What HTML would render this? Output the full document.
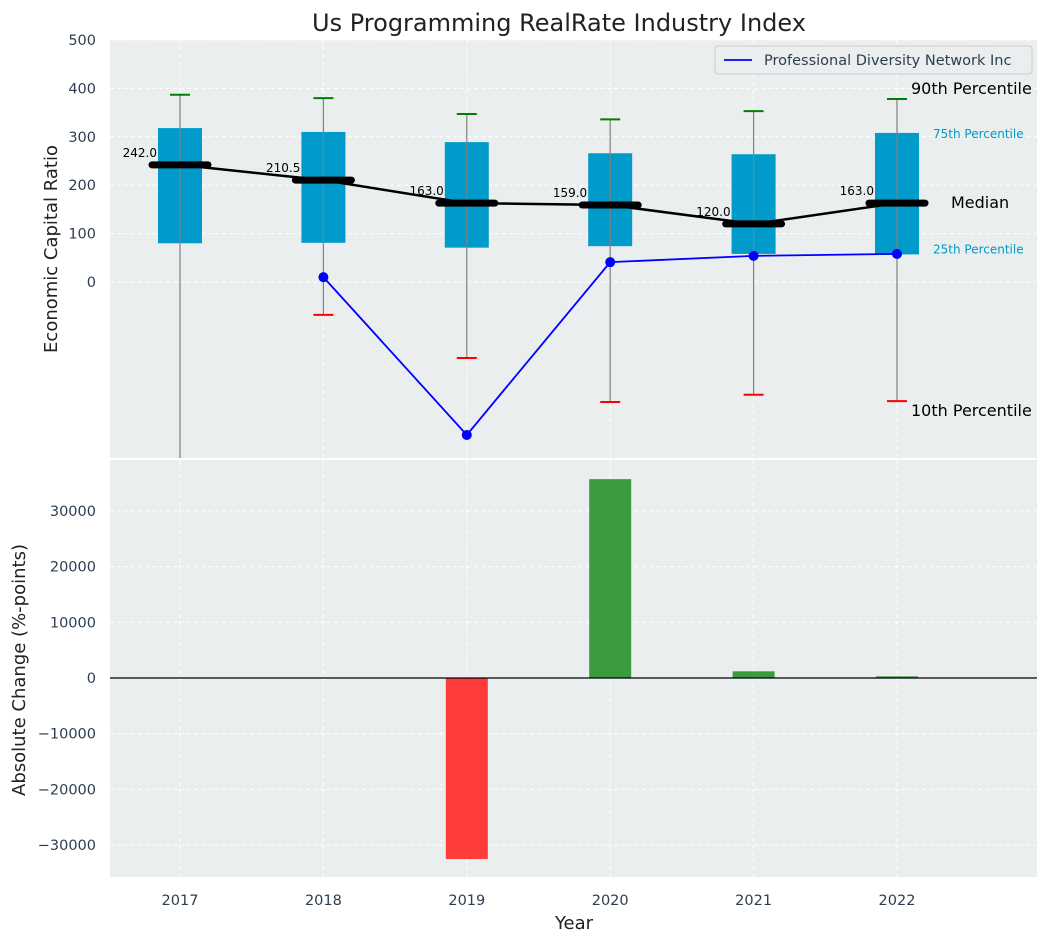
<!DOCTYPE html>
<html><head><meta charset="utf-8"><style>
body{margin:0;background:#fff;}
svg text{font-family:"DejaVu Sans","Liberation Sans",sans-serif;}
</style></head><body>
<svg id="chart" width="1048" height="942" xmlns="http://www.w3.org/2000/svg"></svg>
<script>
const years=[2017,2018,2019,2020,2021,2022];
const p10=[-400,-68,-157,-248,-233,-246];
const p25=[80,81,71,74,58,57];
const medians=[242,210.5,163,159,120,163];
const p75=[318,310,289,266,264,308];
const p90=[387,380,347,336,353,378];
const company=[null,10,-316,41,54,58];
const changes=[0,0,-32500,35700,1200,300];
const topTicks=[0,100,200,300,400,500];
const botTicks=[-30000,-20000,-10000,0,10000,20000,30000];

const svg=document.getElementById('chart');
const NS='http://www.w3.org/2000/svg';
function el(t,a,txt){const e=document.createElementNS(NS,t);for(const k in a)e.setAttribute(k,a[k]);if(txt!==undefined)e.textContent=txt;svg.appendChild(e);return e;}
const L=110,R=1037;
const x=v=>180+(v-2017)*143.4;
const yT=v=>282-v*0.484;
const yB=v=>678-v*0.00557;
const T0=40,T1=458,B0=460,B1=877;

let e;
e=el('rect',{x:L,y:T0,width:R-L,height:T1-T0,fill:'#eaeeef'});


e=el('rect',{x:L,y:B0,width:R-L,height:B1-B0,fill:'#eaeeef'});


topTicks.forEach(t=>{el('line',{x1:L,x2:R,y1:yT(t),y2:yT(t),stroke:'#fff','stroke-dasharray':'4,3','stroke-width':1});
 e=el('text',{x:96,y:yT(t)+5,'text-anchor':'end','font-size':14.5,fill:'#2d3e50'},t);
 
 });
botTicks.forEach(t=>{el('line',{x1:L,x2:R,y1:yB(t),y2:yB(t),stroke:'#fff','stroke-dasharray':'4,3','stroke-width':1});
 e=el('text',{x:96,y:yB(t)+5,'text-anchor':'end','font-size':14.5,fill:'#2d3e50'},String(t).replace('-','−'));
 
 });
years.forEach(yr=>{el('line',{x1:x(yr),x2:x(yr),y1:T0,y2:T1,stroke:'#fff','stroke-dasharray':'4,3'});
 el('line',{x1:x(yr),x2:x(yr),y1:B0,y2:B1,stroke:'#fff','stroke-dasharray':'4,3'});
 e=el('text',{x:x(yr),y:905,'text-anchor':'middle','font-size':14.5,fill:'#2d3e50'},yr);
 
 });
const clipTop=v=>Math.min(T1,Math.max(T0,yT(v)));
years.forEach((yr,i)=>{const cx=x(yr);
 e=el('rect',{x:cx-22,y:yT(p75[i]),width:44,height:yT(p25[i])-yT(p75[i]),fill:'#009bcb'});
 
 
 e=el('line',{x1:cx,x2:cx,y1:clipTop(p90[i]),y2:clipTop(p10[i]),stroke:'#808080','stroke-width':1.2});
 
 
 el('line',{x1:cx-10,x2:cx+10,y1:yT(p90[i]),y2:yT(p90[i]),stroke:'green','stroke-width':2});
 if(yT(p10[i])<T1)el('line',{x1:cx-10,x2:cx+10,y1:yT(p10[i]),y2:yT(p10[i]),stroke:'red','stroke-width':2});
});
e=el('polyline',{points:years.map((yr,i)=>x(yr)+','+yT(medians[i])).join(' '),fill:'none',stroke:'#000','stroke-width':2.5});


years.forEach((yr,i)=>{
 el('line',{x1:x(yr)-28,x2:x(yr)+28,y1:yT(medians[i]),y2:yT(medians[i]),stroke:'#000','stroke-width':7,'stroke-linecap':'round'});
 e=el('text',{x:x(yr)-23,y:yT(medians[i])-8,'text-anchor':'end','font-size':12,fill:'#000'},medians[i].toFixed(1));
 
 
});
const pts=years.map((yr,i)=>company[i]===null?null:[x(yr),yT(company[i])]).filter(p=>p);
e=el('polyline',{points:pts.map(p=>p.join(',')).join(' '),fill:'none',stroke:'blue','stroke-width':1.8});


pts.forEach(p=>{e=el('circle',{cx:p[0],cy:p[1],r:5,fill:'blue'});
 
 });
const lx=x(2022);
el('text',{x:lx+14,y:yT(p90[5])-5,'font-size':16,fill:'#000'},'90th Percentile');
el('text',{x:lx+36,y:yT(p75[5])+5,'font-size':12,fill:'#0099c6'},'75th Percentile');
el('text',{x:lx+54,y:yT(medians[5])+5,'font-size':16,fill:'#000'},'Median');
el('text',{x:lx+36,y:yT(p25[5])-1,'font-size':12,fill:'#0099c6'},'25th Percentile');
el('text',{x:lx+14,y:yT(p10[5])+15,'font-size':16,fill:'#000'},'10th Percentile');
e=el('rect',{x:715,y:46,width:317,height:28,fill:'#eaeeef',stroke:'#ccc',rx:3});


el('line',{x1:724,x2:752,y1:60,y2:60,stroke:'blue','stroke-width':1.8});
el('text',{x:764,y:65,'font-size':14.5,fill:'#2d3e50'},'Professional Diversity Network Inc');
years.forEach((yr,i)=>{const v=changes[i];if(!v)return;
 e=el('rect',{x:x(yr)-21,y:Math.min(yB(v),yB(0)),width:42,height:Math.abs(yB(v)-yB(0)),fill:v>0?'#3a9c3e':'#ff3c3c'});
 
 });
el('line',{x1:L,x2:R,y1:yB(0),y2:yB(0),stroke:'#000','stroke-width':1.2});
e=el('text',{x:559,y:31,'text-anchor':'middle','font-size':24,fill:'#222'},'Us Programming RealRate Industry Index');


e=el('text',{x:57,y:249,'text-anchor':'middle','font-size':18,fill:'#222',transform:'rotate(-90 57 249)'},'Economic Capital Ratio');


e=el('text',{x:25,y:670,'text-anchor':'middle','font-size':18,fill:'#222',transform:'rotate(-90 25 670)'},'Absolute Change (%-points)');


e=el('text',{x:574,y:929,'text-anchor':'middle','font-size':18,fill:'#222'},'Year');


</script>
</body></html>
